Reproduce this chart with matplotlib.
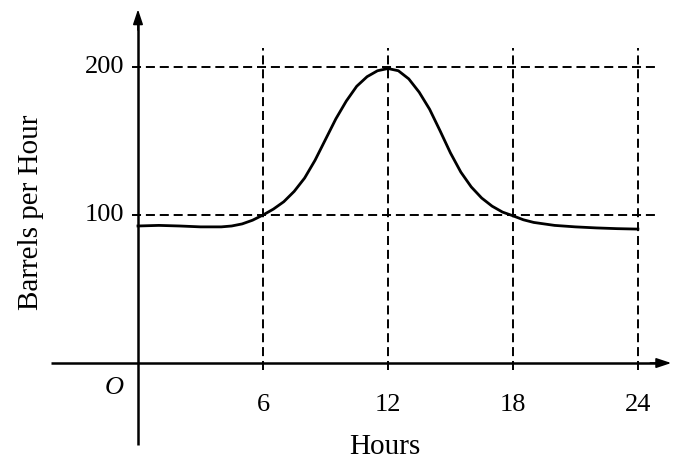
import matplotlib
matplotlib.use("Agg")
import matplotlib.pyplot as plt

# Data
hours = [0, 1, 2, 3, 4, 4.5, 5, 5.5, 6, 6.5, 7, 7.5, 8, 8.5, 9, 9.5, 10, 10.5,
         11, 11.5, 12, 12.5, 13, 13.5, 14, 14.5, 15, 15.5, 16, 16.5, 17, 17.5,
         18, 18.5, 19, 20, 21, 22, 23, 24]
barrels = [92.6, 93, 92.6, 92, 92, 92.6, 94, 96.5, 100, 104, 109, 116, 125, 137,
           151, 165, 177, 187, 193.5, 197.5, 199, 197.5, 192, 183, 171.5, 157,
           142, 129, 119, 111.5, 106, 102, 99.5, 96.8, 95, 93, 92, 91.3, 90.8,
           90.5]
x_ticks = [6, 12, 18, 24]
x_tick_labels = ["6", "12", "18", "24"]
y_ticks = [100, 200]
y_tick_labels = ["100", "200"]

plt.rcParams['font.family'] = ['Liberation Serif', 'DejaVu Serif']
plt.rcParams['lines.scale_dashes'] = False

fig = plt.figure(figsize=(6.76, 4.61), dpi=100)
ax = fig.add_axes([0, 0, 1, 1])
ax.set_xlim(-6.625, 25.83)
ax.set_ylim(-66.2, 245.3)
ax.axis('off')

dash = (0, (6.5, 3.5))
# vertical guide lines
for xt in x_ticks:
    ax.plot([xt, xt], [-5, 213], color='black', lw=1.4, linestyle=dash)
# horizontal guide lines
for yt in y_ticks:
    ax.plot([-0.3, 24.8], [yt, yt], color='black', lw=1.4, linestyle=dash)

# axes with arrows
ax.plot([-4.2, 25.0], [0, 0], color='black', lw=1.8, solid_capstyle='butt')
ax.plot([0, 0], [-55.4, 232], color='black', lw=1.8, solid_capstyle='butt')
ax.annotate('', xy=(25.6, 0), xytext=(24.6, 0),
            arrowprops=dict(arrowstyle='-|>,head_length=0.9,head_width=0.3',
                            color='black', lw=1.2, shrinkA=0, shrinkB=0))
ax.annotate('', xy=(0, 239), xytext=(0, 225),
            arrowprops=dict(arrowstyle='-|>,head_length=0.9,head_width=0.3',
                            color='black', lw=1.2, shrinkA=0, shrinkB=0))

# curve
ax.plot(hours, barrels, color='black', lw=2.0, solid_joinstyle='round')

# tick labels
for xt, lab in zip(x_ticks, x_tick_labels):
    ax.text(xt, -28.5, lab, ha='center', va='center', fontsize=19)
for yt, lab in zip(y_ticks, y_tick_labels):
    ax.text(-1.6, yt, lab, ha='center', va='center', fontsize=19)
ax.text(-1.15, -17, 'O', ha='center', va='center', fontsize=19, style='italic')

# axis labels
ax.text(11.85, -57, 'Hours', ha='center', va='center', fontsize=21)
ax.text(-5.15, 102, 'Barrels per Hour', ha='center', va='center', fontsize=21,
        rotation=90)

fig.savefig('out.png', dpi=100)
